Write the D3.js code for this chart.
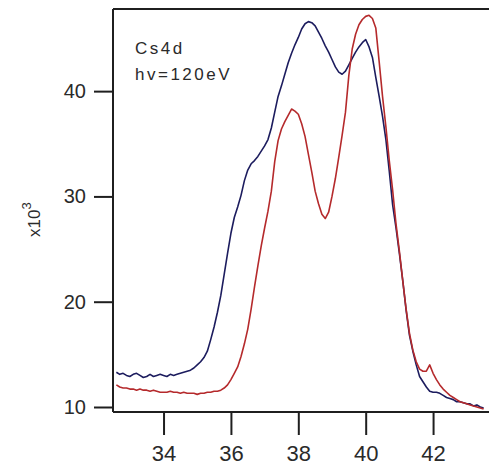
<!DOCTYPE html>
<html>
<head>
<meta charset="utf-8">
<script src="https://cdn.jsdelivr.net/npm/d3@7/dist/d3.min.js"></script>
<style>
  html, body { margin: 0; padding: 0; background: #fff; }
  svg { display: block; }
  .tick text { fill: #2a2a2a; font-family: "Liberation Sans", Arial, sans-serif; }
</style>
</head>
<body>
<svg id="chart" width="489" height="468"></svg>
<script>
// Cs 4d photoemission spectra, intensity in units of 10^3 counts
const energy = [
  32.6, 32.7, 32.8, 32.9, 33.0, 33.1, 33.2, 33.3, 33.4, 33.5,
  33.6, 33.7, 33.8, 33.9, 34.0, 34.1, 34.2, 34.3, 34.4, 34.5,
  34.6, 34.7, 34.8, 34.9, 35.0, 35.1, 35.2, 35.3, 35.4, 35.5,
  35.6, 35.7, 35.8, 35.9, 36.0, 36.1, 36.2, 36.3, 36.4, 36.5,
  36.6, 36.7, 36.8, 36.9, 37.0, 37.1, 37.2, 37.3, 37.4, 37.5,
  37.6, 37.7, 37.8, 37.9, 38.0, 38.1, 38.2, 38.3, 38.4, 38.5,
  38.6, 38.7, 38.8, 38.9, 39.0, 39.1, 39.2, 39.3, 39.4, 39.5,
  39.6, 39.7, 39.8, 39.9, 40.0, 40.1, 40.2, 40.3, 40.4, 40.5,
  40.6, 40.7, 40.8, 40.9, 41.0, 41.1, 41.2, 41.3, 41.4, 41.5,
  41.6, 41.7, 41.8, 41.9, 42.0, 42.1, 42.2, 42.3, 42.4, 42.5,
  42.6, 42.7, 42.8, 42.9, 43.0, 43.1, 43.2, 43.3, 43.4, 43.5
];

const blueCounts = [
  13.3, 13.1, 13.2, 13.0, 12.9, 13.1, 13.2, 13.0, 12.8, 12.9,
  13.1, 12.9, 13.0, 13.1, 13.0, 12.9, 13.1, 13.0, 13.1, 13.2,
  13.3, 13.4, 13.5, 13.7, 14.0, 14.3, 14.7, 15.3, 16.4, 17.6,
  19.0, 20.6, 22.6, 24.6, 26.5, 28.0, 29.0, 30.1, 31.5, 32.5,
  33.1, 33.4, 33.8, 34.3, 34.8, 35.4, 36.5, 38.0, 39.5, 40.5,
  41.6, 42.7, 43.6, 44.4, 45.1, 45.9, 46.4, 46.6, 46.5, 46.2,
  45.6, 45.0, 44.3, 43.7, 43.0, 42.3, 41.8, 41.6, 41.9, 42.5,
  43.1, 43.7, 44.2, 44.6, 44.9, 44.2, 43.2, 41.3, 39.5, 37.6,
  35.4, 32.4, 29.2, 27.0, 24.6, 22.0, 19.2, 16.8, 15.3, 14.0,
  12.9, 12.4, 11.9, 11.5, 11.4, 11.4, 11.3, 11.1, 10.9, 10.8,
  10.7, 10.5, 10.5, 10.4, 10.3, 10.3, 10.1, 10.2, 10.0, 9.9
];

const redCounts = [
  12.1, 11.9, 11.8, 11.8, 11.7, 11.7, 11.6, 11.7, 11.6, 11.6,
  11.5, 11.6, 11.5, 11.4, 11.4, 11.4, 11.5, 11.4, 11.4, 11.3,
  11.4, 11.3, 11.3, 11.3, 11.2, 11.3, 11.3, 11.4, 11.4, 11.5,
  11.5, 11.6, 11.8, 12.1, 12.6, 13.2, 13.8, 14.8, 16.0, 17.4,
  19.3, 21.4, 23.4, 25.3, 27.0, 28.6, 30.5, 33.3, 35.3, 36.4,
  37.1, 37.7, 38.3, 38.1, 37.8, 36.9, 35.7, 34.0, 32.3, 30.5,
  29.3, 28.3, 27.9, 28.5, 30.0, 31.7, 33.7, 35.8, 38.0, 41.5,
  44.0, 45.4, 46.3, 46.8, 47.1, 47.2, 46.9, 46.0, 42.8, 39.5,
  36.6, 33.4, 30.6, 27.4, 24.8, 22.0, 19.3, 17.0, 15.4, 14.3,
  13.6, 13.4, 13.4, 14.0, 13.2, 12.6, 12.1, 11.7, 11.4, 11.1,
  10.9, 10.7, 10.5, 10.4, 10.3, 10.2, 10.1, 10.0, 9.9, 9.8
];

const xTicks = [34, 36, 38, 40, 42];
const yTicks = [10, 20, 30, 40];

const svg = d3.select("#chart");

const x = d3.scaleLinear().domain([32.5, 43.66]).range([113, 489]);
const y = d3.scaleLinear().domain([9.525, 47.8]).range([412, 9]);

// frame: left, bottom and top edges
const frameColor = "#1f1f1f";
svg.append("line").attr("x1", 113).attr("x2", 489).attr("y1", 9).attr("y2", 9)
  .attr("stroke", frameColor).attr("stroke-width", 2);

// curves
const series = [
  { name: "blue", values: blueCounts, color: "#1c1c5e" },
  { name: "red", values: redCounts, color: "#b52a2c" }
];

const line = d3.line()
  .x(d => x(d[0]))
  .y(d => y(d[1]))
  .curve(d3.curveLinear);

series.forEach(s => {
  svg.append("path")
    .datum(energy.map((e, i) => [e, s.values[i]]))
    .attr("fill", "none")
    .attr("stroke", s.color)
    .attr("stroke-width", 1.6)
    .attr("stroke-linejoin", "round")
    .attr("d", line);
});

// axes
const yAxis = d3.axisLeft(y).tickValues(yTicks).tickSize(19).tickPadding(8)
  .tickFormat(d3.format("d"));
const gy = svg.append("g").attr("transform", "translate(113,0)").call(yAxis);
gy.select(".domain").attr("d", "M0,9V412").attr("stroke", frameColor).attr("stroke-width", 2);
gy.selectAll(".tick line").attr("stroke", frameColor).attr("stroke-width", 2);
gy.selectAll(".tick text").attr("font-size", 20);

const xAxis = d3.axisBottom(x).tickValues(xTicks).tickSize(23).tickPadding(10)
  .tickFormat(d3.format("d"));
const gx = svg.append("g").attr("transform", "translate(0,412)").call(xAxis);
gx.select(".domain").attr("d", "M113,0H489").attr("stroke", frameColor).attr("stroke-width", 2);
gx.selectAll(".tick line").attr("stroke", frameColor).attr("stroke-width", 2);
gx.selectAll(".tick text").attr("font-size", 22);

// annotation
const note = svg.append("text")
  .attr("font-family", "'Liberation Sans', Arial, sans-serif")
  .attr("font-size", 17)
  .attr("letter-spacing", 2.5)
  .attr("fill", "#2a2a2a");
note.append("tspan").attr("x", 135).attr("y", 54).text("Cs4d");
note.append("tspan").attr("x", 135).attr("y", 80).text("hv=120eV");

// y-axis unit label
const unit = svg.append("text")
  .attr("transform", "translate(40,237) rotate(-90)")
  .attr("font-family", "'Liberation Sans', Arial, sans-serif")
  .attr("font-size", 17)
  .attr("fill", "#2a2a2a");
unit.append("tspan").text("x10");
unit.append("tspan").attr("dy", -9).attr("font-size", 13).text("3");
</script>
</body>
</html>
